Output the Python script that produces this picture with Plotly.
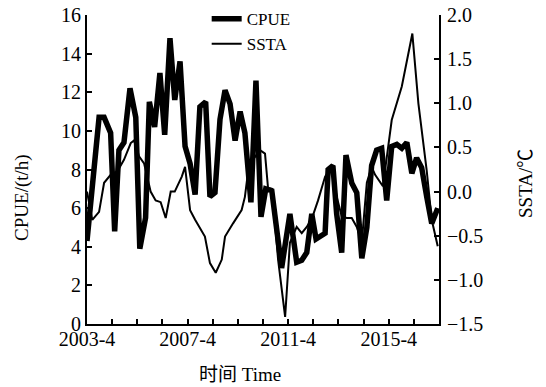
import plotly.graph_objects as go

# Time in decimal years (2003.25 = 2003-4)
cpue_time = [2003.25, 2003.73, 2003.93, 2004.19, 2004.35, 2004.52, 2004.72, 2004.96, 2005.19, 2005.35,
             2005.58, 2005.73, 2005.94, 2006.15, 2006.34, 2006.55, 2006.74, 2006.95, 2007.15, 2007.35,
             2007.55, 2007.74, 2007.97, 2008.14, 2008.34, 2008.54, 2008.74, 2008.94, 2009.14, 2009.34,
             2009.53, 2009.77, 2009.97, 2010.17, 2010.36, 2010.60, 2010.99, 2011.32, 2011.59, 2011.79,
             2011.99, 2012.19, 2012.36, 2012.52, 2012.72, 2012.84, 2013.03, 2013.18, 2013.38, 2013.55,
             2013.78, 2013.98, 2014.18, 2014.38, 2014.57, 2014.77, 2014.97, 2015.17, 2015.37, 2015.57,
             2015.77, 2015.97, 2016.17, 2016.36, 2016.56, 2016.76, 2016.96, 2017.20]
cpue_values = [4.3, 10.7, 10.7, 9.9, 4.8, 9.0, 9.4, 12.2, 10.7, 3.9,
               5.5, 11.5, 10.2, 13.0, 9.8, 14.8, 11.6, 13.6, 9.2, 8.3,
               6.7, 11.25, 11.5, 6.6, 6.8, 10.6, 12.1, 11.4, 9.5, 11.0,
               9.9, 6.3, 12.6, 5.55, 7.0, 6.9, 2.9, 5.7, 3.2, 3.3,
               3.7, 5.7, 4.4, 4.5, 4.7, 8.0, 8.2, 5.7, 3.7, 8.75,
               7.3, 6.8, 3.4, 5.0, 8.2, 9.0, 9.1, 6.4, 9.2, 9.3,
               9.1, 9.4, 7.8, 8.6, 8.1, 6.6, 5.2, 6.0]

ssta_time = [2003.25, 2003.46, 2003.73, 2003.93, 2004.19, 2004.46, 2004.72, 2004.99, 2005.12, 2005.32,
             2005.52, 2005.65, 2005.78, 2005.98, 2006.18, 2006.38, 2006.58, 2006.74, 2006.91, 2007.02,
             2007.15, 2007.35, 2007.55, 2007.94, 2008.14, 2008.37, 2008.61, 2008.74, 2009.06, 2009.40,
             2009.53, 2009.65, 2009.85, 2010.13, 2010.33, 2010.45, 2010.61, 2010.85, 2011.13, 2011.32,
             2011.59, 2011.79, 2011.99, 2012.20, 2012.44, 2012.72, 2012.98, 2013.18, 2013.38, 2013.58,
             2013.78, 2013.98, 2014.18, 2014.38, 2014.57, 2014.71, 2015.02, 2015.37, 2015.77, 2016.19,
             2016.43, 2016.76, 2016.96, 2017.20]
ssta_values = [0.0, -0.32, -0.23, 0.1, 0.19, 0.23, 0.36, 0.55, 0.58, 0.40,
               0.32, 0.17, 0.0, -0.1, -0.12, -0.3, 0.0, 0.0, 0.1, 0.17,
               0.28, -0.21, -0.32, -0.51, -0.81, -0.92, -0.77, -0.51, -0.36, -0.21,
               -0.06, 0.21, 0.36, 0.47, 0.43, 0.04, 0.03, -0.77, -1.42, -0.58,
               -0.40, -0.47, -0.40, -0.3, -0.1, 0.17, 0.28, -0.06, -0.28, -0.30,
               -0.30, -0.40, -0.57, 0.1, 0.28, 0.19, 0.06, 0.81, 1.19, 1.79,
               1.0, 0.24, -0.32, -0.62]

year_ticks = [2003.25 + i for i in range(15)]
labelled = {2003.25: "2003-4", 2007.25: "2007-4", 2011.25: "2011-4", 2015.25: "2015-4"}
year_labels = [labelled.get(t, "") for t in year_ticks]

x_title = "时间 Time"
y_title = "CPUE/(t/h)"
y2_title = "SSTA/℃"

FONT = "Liberation Serif, 'Noto Sans CJK SC', serif"

fig = go.Figure()
fig.add_trace(go.Scatter(x=cpue_time, y=cpue_values, mode="lines", name="CPUE",
                         line=dict(color="black", width=5.5)))
fig.add_trace(go.Scatter(x=ssta_time, y=ssta_values, mode="lines", name="SSTA", yaxis="y2",
                         line=dict(color="black", width=2)))

axis_common = dict(ticks="inside", ticklen=5, tickwidth=2, tickcolor="black",
                   showline=True, linecolor="black", linewidth=2, showgrid=False, zeroline=False,
                   tickfont=dict(size=20))

fig.update_layout(
    width=546, height=387,
    margin=dict(l=87, r=107, t=15, b=63, autoexpand=False),
    paper_bgcolor="white", plot_bgcolor="white",
    font=dict(family=FONT, size=19, color="black"),
    showlegend=True,
    legend=dict(x=0.34, y=1.045, xanchor="left", yanchor="top", bgcolor="rgba(0,0,0,0)",
                font=dict(size=17), tracegroupgap=0, itemwidth=30),
    xaxis=dict(range=[2003.25, 2017.25], tickvals=year_ticks, ticktext=year_labels,
               ticklabelstandoff=-4, **axis_common),
    yaxis=dict(range=[0, 16], dtick=2, **axis_common),
    yaxis2=dict(range=[-1.5, 2.0], dtick=0.5, tickformat=".1f", overlaying="y", side="right",
                ticklabelstandoff=2, **axis_common),
    annotations=[
        dict(text=x_title, xref="paper", yref="paper", x=0.435, y=-0.165,
             xanchor="center", yanchor="middle", showarrow=False, font=dict(size=19)),
        dict(text=y_title, xref="paper", yref="paper", x=-0.185, y=0.411, textangle=-90,
             xanchor="center", yanchor="middle", showarrow=False, font=dict(size=19)),
        dict(text=y2_title, xref="paper", yref="paper", x=1.244, y=0.456, textangle=-90,
             xanchor="center", yanchor="middle", showarrow=False, font=dict(size=19)),
    ],
)

fig.write_html("out.html")
